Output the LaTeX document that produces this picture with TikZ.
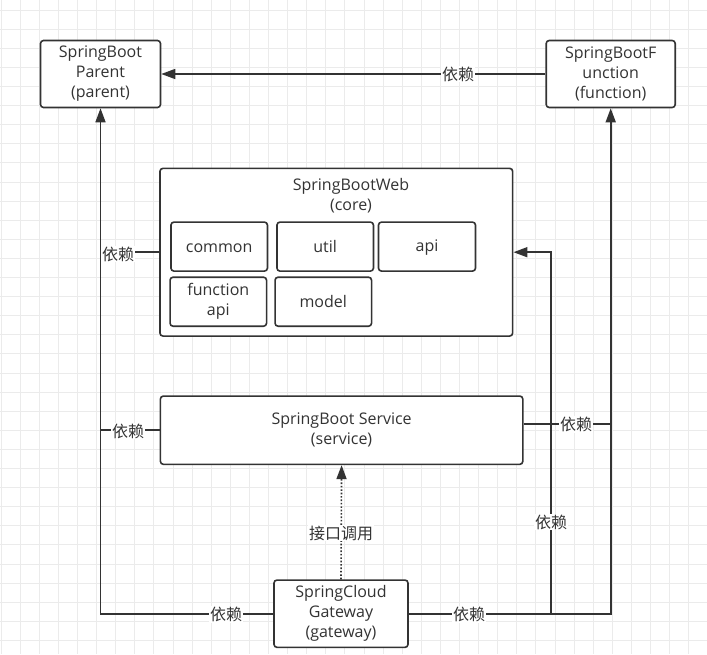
\documentclass[tikz,border=0pt]{standalone}
\usepackage{fontspec}
\setmainfont{Open Sans}
\newfontfamily\cjk{Noto Sans CJK SC}
\usetikzlibrary{arrows.meta}
\definecolor{ink}{HTML}{333333}
\definecolor{gridminor}{HTML}{EBEBEB}
\newcommand{\lnstrut}{\rule[-3pt]{0pt}{17pt}}
\begin{document}
\begin{tikzpicture}[x=1pt,y=-1pt,
  box/.style={draw=ink, line width=1.6pt, rounded corners=3pt, fill=white,
    align=center, inner sep=0pt, text=ink,
    font=\fontsize{16}{20}\selectfont,
    execute at begin node=\lnstrut, execute at end node=\lnstrut},
  conn/.style={draw=ink, line width=1.6pt},
  tip/.style={-{Triangle[length=14pt,width=10pt]}},
  arr/.style={conn, tip},
  dep/.style={fill=white, inner sep=1pt, text=ink, font=\cjk\fontsize{16}{19}\selectfont},
]
\useasboundingbox (0,0) rectangle (707,654);
\fill[white] (0,0) rectangle (707,654);
% background grid
\foreach \i in {0,...,37} {
  \pgfmathsetmacro{\gx}{1+19.1*\i}
  \draw[gridminor, line width=0.8pt] (\gx,0) -- (\gx,654);
}
\foreach \j in {0,...,34} {
  \pgfmathsetmacro{\gy}{10+19.1*\j}
  \draw[gridminor, line width=0.8pt] (0,\gy) -- (707,\gy);
}

% nodes
\node[box, minimum width=120pt, minimum height=67pt] (parent) at (100.5,74) {SpringBoot\\Parent\\(parent)};
\node[box, minimum width=129pt, minimum height=67pt] (func) at (610.7,74) {SpringBootF\\unction\\(function)};
\node[box, minimum width=352.7pt, minimum height=167.7pt] (core) at (336.3,252.2) {};
\node[text=ink, align=center, inner sep=0pt, font=\fontsize{16}{20}\selectfont,
  execute at begin node=\lnstrut, execute at end node=\lnstrut] (coretitle) at (351,196) {SpringBootWeb\\(core)};
\node[box, minimum width=96.5pt, minimum height=49pt] (common) at (219.2,246.6) {common};
\node[box, minimum width=96.5pt, minimum height=49pt] (util) at (325.2,246.6) {util};
\node[box, minimum width=97pt, minimum height=49pt] (api) at (427,246.6) {api};
\node[box, minimum width=96.5pt, minimum height=49pt] (fapi) at (218.3,301.7) {function\\api};
\node[box, minimum width=96.5pt, minimum height=49pt] (model) at (323.3,301.7) {model};
\node[box, minimum width=362.4pt, minimum height=68.3pt] (service) at (341.6,430.2) {SpringBoot Service\\(service)};
\node[box, minimum width=134pt, minimum height=67.3pt] (gw) at (341,613.7) {SpringCloud\\Gateway\\(gateway)};

% junction coordinates
\coordinate (jl) at (100.5,613.7);
\coordinate (jc) at (551,613.7);
\coordinate (jr) at (610.7,613.7);

% function -> parent
\draw[arr] (func) -- (parent);
\node[dep] at (458,74) {依赖};
% gateway -> parent
\draw[arr] (gw.west) -- (jl) -- (parent.south);
\node[dep] at (226,614.5) {依赖};
% gateway -> function
\draw[arr] (gw.east) -- (jr) -- (func.south);
\node[dep] at (469,614.5) {依赖};
% gateway -> core
\draw[arr] (jc) |- (core.east);
\node[dep] at (551,522) {依赖};
% core -> parent line
\draw[conn] (core.west) -- (core.west -| parent.south);
\node[dep] at (118,254) {依赖};
% service -> parent line
\draw[conn] (service.west) -- (service.west -| parent.south);
\node[dep] at (128,431) {依赖};
% service -> function line
\draw[conn] ([yshift=6pt]service.east) -- ([yshift=6pt]service.east -| func.south);
\node[dep] at (576,424.2) {依赖};
% gateway -> service dotted
\draw[conn, dash pattern=on 1.6pt off 1.8pt, tip] (gw.north) -- (service.south);
\node[dep] at (341,533) {接口调用};
\end{tikzpicture}
\end{document}
